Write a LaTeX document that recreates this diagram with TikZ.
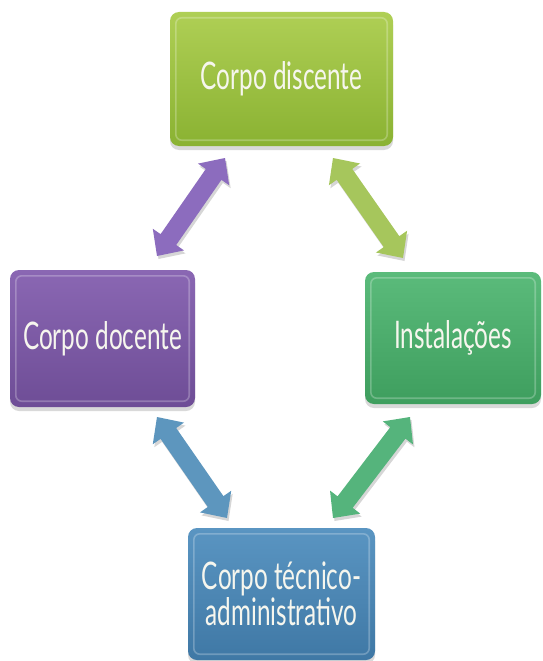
\documentclass[tikz,border=0pt]{standalone}
\usepackage{fontspec}
\setmainfont[FakeStretch=0.64]{Lato}
\usetikzlibrary{calc,shadows}
\definecolor{limeT}{HTML}{AFCF55}
\definecolor{limeB}{HTML}{8AB232}
\definecolor{purT}{HTML}{8A67B3}
\definecolor{purB}{HTML}{6E4D96}
\definecolor{grnT}{HTML}{5BBB7B}
\definecolor{grnB}{HTML}{3E9E5E}
\definecolor{bluT}{HTML}{5A95C2}
\definecolor{bluB}{HTML}{3F78A5}
\definecolor{purA}{HTML}{8C6CBE}
\definecolor{limeA}{HTML}{A6C65C}
\definecolor{bluA}{HTML}{5D96BE}
\definecolor{grnA}{HTML}{55B47C}
\definecolor{txt}{HTML}{F6F6EE}
\def\hl{20pt}
\def\hw{19pt}
\def\sw{9.5pt}
\newcommand\dbarrow[3]{%
  \fill[#1] (#2)
   -- ($(#2)!\hl!(#3)!\hw!90:(#3)$)
   -- ($(#2)!\hl!(#3)!\sw!90:(#3)$)
   -- ($(#3)!\hl!(#2)!\sw!-90:(#2)$)
   -- ($(#3)!\hl!(#2)!\hw!-90:(#2)$)
   -- (#3)
   -- ($(#3)!\hl!(#2)!\hw!90:(#2)$)
   -- ($(#3)!\hl!(#2)!\sw!90:(#2)$)
   -- ($(#2)!\hl!(#3)!\sw!-90:(#3)$)
   -- ($(#2)!\hl!(#3)!\hw!-90:(#3)$)
   -- cycle;}
\begin{document}
\begin{tikzpicture}[x=1pt,y=-1pt,
  box/.style={rounded corners=9pt, inner sep=0pt, align=center, text=txt,
    font=\fontsize{38pt}{30pt}\selectfont,
    drop shadow={shadow xshift=0pt,shadow yshift=-4pt,opacity=0.3}},
  bevel/.style={rounded corners=6pt, draw=white, draw opacity=0.25, line width=1.6pt},
  ashadow/.style={black, opacity=0.16}]
\useasboundingbox (0,0) rectangle (542,661);
\node[box, minimum width=223pt, minimum height=134pt, top color=limeT, bottom color=limeB] (disc) at (281.5,79) {Corpo discente};
\node[box, minimum width=185pt, minimum height=137pt, top color=purT, bottom color=purB] (doc) at (102.5,338.5) {Corpo docente};
\node[box, minimum width=176pt, minimum height=132pt, top color=grnT, bottom color=grnB] (inst) at (453,338) {Instalações};
\node[box, minimum width=187pt, minimum height=132pt, top color=bluT, bottom color=bluB] (tec) at (281.5,594) {Corpo técnico-\\administrativo};
\foreach \n in {disc,doc,inst,tec}{
  \draw[bevel] ([shift={(6,6)}]\n.north west) rectangle ([shift={(-6,-6)}]\n.south east);
}
\coordinate (p1) at (225,158);
\coordinate (p2) at (157,256);
\coordinate (l1) at (333,158);
\coordinate (l2) at (403,258);
\coordinate (b1) at (157,417);
\coordinate (b2) at (227,518);
\coordinate (g1) at (410,417);
\coordinate (g2) at (333,518);
\begin{scope}[transform canvas={shift={(1.5,3)}}]
\dbarrow{ashadow}{p1}{p2}
\dbarrow{ashadow}{l1}{l2}
\dbarrow{ashadow}{b1}{b2}
\dbarrow{ashadow}{g1}{g2}
\end{scope}
\dbarrow{purA}{p1}{p2}
\dbarrow{limeA}{l1}{l2}
\dbarrow{bluA}{b1}{b2}
\dbarrow{grnA}{g1}{g2}
\end{tikzpicture}
\end{document}
